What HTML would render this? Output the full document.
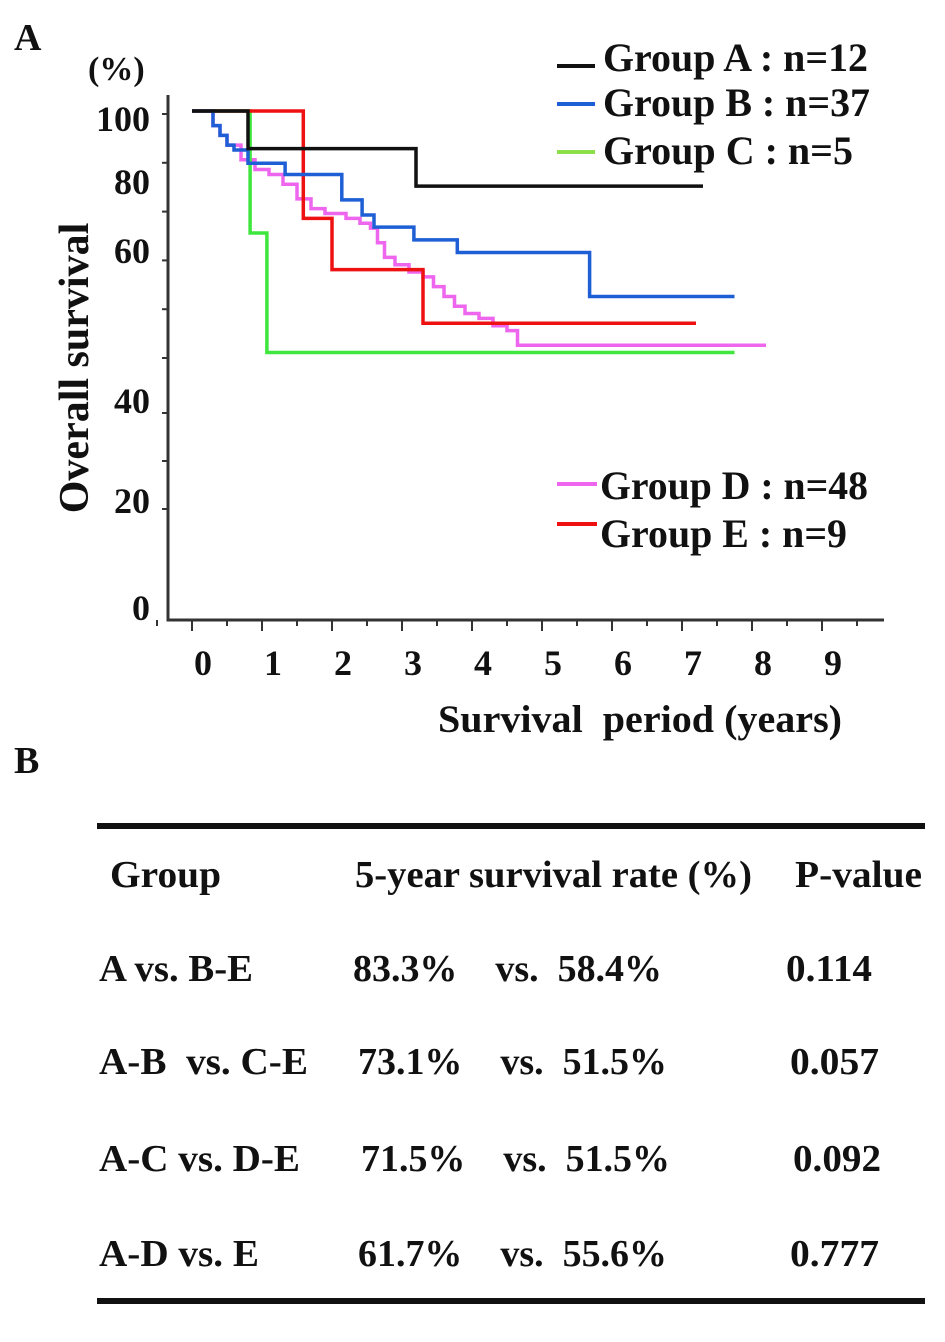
<!DOCTYPE html>
<html><head><meta charset="utf-8"><style>
body{margin:0;background:#fff}
svg text{font-family:"Liberation Serif",serif;font-weight:bold;fill:#111;white-space:pre}
</style></head><body>
<svg width="945" height="1337" viewBox="0 0 945 1337" xmlns="http://www.w3.org/2000/svg">
<text x="14" y="50" font-size="38">A</text>
<text x="88" y="80" font-size="34">(%)</text>
<g id="axes"></g>
<g id="curves"></g>
<text transform="translate(88,368) rotate(-90)" text-anchor="middle" font-size="42">Overall survival</text>
<text x="438" y="732" textLength="404" lengthAdjust="spacingAndGlyphs" font-size="39">Survival  period (years)</text>
<g>
<line x1="557" y1="66" x2="595" y2="66" stroke="#111" stroke-width="4"/>
<text x="603" y="71" font-size="40" textLength="265" lengthAdjust="spacingAndGlyphs">Group A : n=12</text>
<line x1="557" y1="104" x2="595" y2="104" stroke="#1f5fd6" stroke-width="4"/>
<text x="603" y="116" font-size="40" textLength="267" lengthAdjust="spacingAndGlyphs">Group B : n=37</text>
<line x1="557" y1="152" x2="595" y2="152" stroke="#8ee04a" stroke-width="4"/>
<text x="603" y="164" font-size="40" textLength="250" lengthAdjust="spacingAndGlyphs">Group C : n=5</text>
<line x1="557" y1="484" x2="597" y2="484" stroke="#ee66ee" stroke-width="4"/>
<text x="600" y="499" font-size="40" textLength="268" lengthAdjust="spacingAndGlyphs">Group D : n=48</text>
<line x1="557" y1="524" x2="597" y2="524" stroke="#ee1111" stroke-width="4"/>
<text x="600" y="547" font-size="40" textLength="247" lengthAdjust="spacingAndGlyphs">Group E : n=9</text>
</g>
<text x="14" y="773" font-size="38">B</text>
<g font-size="38">
<rect x="97" y="823" width="828" height="6" fill="#111"/>
<rect x="97" y="1298" width="828" height="6" fill="#111"/>
<text x="110" y="887" textLength="111" lengthAdjust="spacingAndGlyphs">Group</text>
<text x="355" y="887" textLength="397" lengthAdjust="spacingAndGlyphs">5-year survival rate (%)</text>
<text x="795" y="887" textLength="127" lengthAdjust="spacingAndGlyphs">P-value</text>
<text x="99" y="981" textLength="154" lengthAdjust="spacingAndGlyphs">A vs. B-E</text>
<text x="353" y="981" textLength="309" lengthAdjust="spacingAndGlyphs">83.3%    vs.  58.4%</text>
<text x="786" y="981" textLength="86" lengthAdjust="spacingAndGlyphs">0.114</text>
<text x="99" y="1074" textLength="209" lengthAdjust="spacingAndGlyphs">A-B  vs. C-E</text>
<text x="358" y="1074" textLength="309" lengthAdjust="spacingAndGlyphs">73.1%    vs.  51.5%</text>
<text x="790" y="1074" textLength="89" lengthAdjust="spacingAndGlyphs">0.057</text>
<text x="99" y="1171" textLength="201" lengthAdjust="spacingAndGlyphs">A-C vs. D-E</text>
<text x="361" y="1171" textLength="309" lengthAdjust="spacingAndGlyphs">71.5%    vs.  51.5%</text>
<text x="793" y="1171" textLength="88" lengthAdjust="spacingAndGlyphs">0.092</text>
<text x="99" y="1266" textLength="160" lengthAdjust="spacingAndGlyphs">A-D vs. E</text>
<text x="358" y="1266" textLength="309" lengthAdjust="spacingAndGlyphs">61.7%    vs.  55.6%</text>
<text x="790" y="1266" textLength="89" lengthAdjust="spacingAndGlyphs">0.777</text>
</g>
</svg>
<script>
const xTicks=[0,1,2,3,4,5,6,7,8,9];
const yTickLabels=["100","80","60","40","20","0"];
const yTickLabelPos=[131,194,263,413,513,620];
const groupNames=["A","B","C","D","E"];
const aTimes=[0,0.8,3.2,7.3];
const aSurv=[100,92.3,84.6,84.6];
const bTimes=[0,0.3,0.4,0.5,0.6,0.8,1.33,2.14,2.43,2.6,3.17,3.79,5.68,7.75];
const bSurv=[100,97,95,93,92,89.3,87,81.8,78.7,76.2,73.6,71,62,62];
const cTimes=[0,0.83,1.07,7.75];
const cSurv=[100,75,50.5,50.5];
const dTimes=[0,0.3,0.4,0.5,0.7,0.9,1.1,1.3,1.5,1.7,1.9,2.2,2.4,2.55,2.65,2.75,2.9,3.1,3.3,3.45,3.6,3.75,3.9,4.1,4.3,4.5,4.65,8.2];
const dSurv=[100,97,95,93,90,88,87,85,82,80,79,78,77,76,73,70,68.5,67,66,64,62,60,58.5,57.5,56,55,52,52];
const eTimes=[0,1.59,2.0,3.3,7.2];
const eSurv=[100,78,67.5,56.5,56.5];
const colors=["#111","#1f5fd6","#3ee63e","#ee66ee","#ee1111"];
const NS="http://www.w3.org/2000/svg";
const X=t=>192+t*70;
const Y=v=>111+(100-v)*4.88;
const axes=document.getElementById('axes');
function mk(tag,attrs,parent){const e=document.createElementNS(NS,tag);for(const k in attrs)e.setAttribute(k,attrs[k]);parent.appendChild(e);return e;}
let l=mk('path',{d:'M168,95 L168,620 L884,620',fill:'none',stroke:'#333','stroke-width':3},axes);


for(let i=0;i<6;i++){
  let t=mk('line',{x1:162,x2:168,y1:Y(100-i*10)+3,y2:Y(100-i*10)+3,stroke:'#333','stroke-width':2},axes);
  
  
}
[413,461,509].forEach(y=>{let t=mk('line',{x1:162,x2:168,y1:y,y2:y,stroke:'#333','stroke-width':2},axes);
  
  });
yTickLabels.forEach((s,i)=>{
  let t=mk('text',{x:150,y:yTickLabelPos[i],'text-anchor':'end','font-size':36},axes);t.textContent=s;
  
  
});
for(let k=-0.5;k<=9.5;k+=0.5){
  let major=Number.isInteger(k);
  let t=mk('line',{x1:X(k),x2:X(k),y1:620,y2:major?631:626,stroke:'#333','stroke-width':2},axes);
  
  
}
xTicks.forEach(v=>{
  let t=mk('text',{x:X(v)+11,y:675,'text-anchor':'middle','font-size':36},axes);t.textContent=v;
  
  
});
const curves=document.getElementById('curves');
const series=[[aTimes,aSurv],[bTimes,bSurv],[cTimes,cSurv],[dTimes,dSurv],[eTimes,eSurv]];
const order=[3,2,4,1,0];
order.forEach(i=>{
  const [ts,vs]=series[i];
  let d='M'+X(ts[0])+','+Y(vs[0]);
  for(let j=1;j<ts.length;j++){d+=' L'+X(ts[j])+','+Y(vs[j-1])+' L'+X(ts[j])+','+Y(vs[j]);}
  let p=mk('path',{d:d,fill:'none',stroke:colors[i],'stroke-width':3.5},curves);
  
  
});
</script>
</body></html>
